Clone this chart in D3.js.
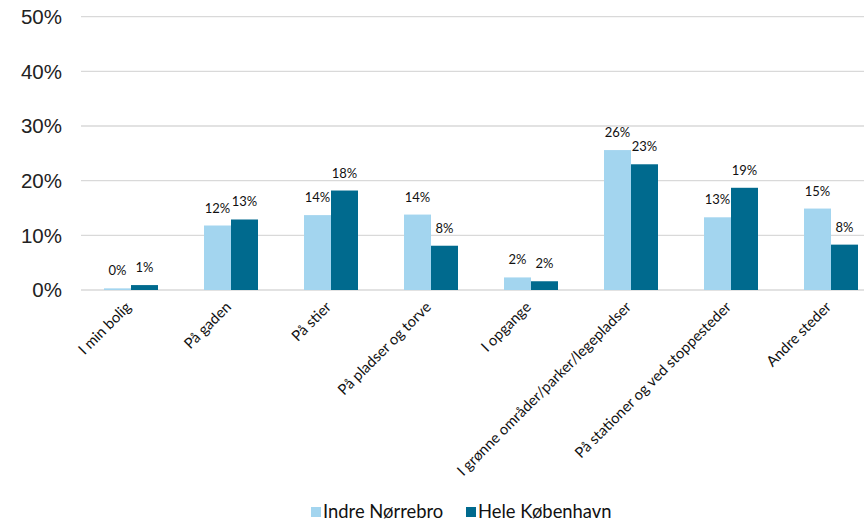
<!DOCTYPE html>
<html><head><meta charset="utf-8">
<script src="https://cdn.jsdelivr.net/npm/d3@7"></script>
<style>body{margin:0;background:#fff}svg{display:block}</style>
</head><body>
<svg id="c" width="864" height="523"></svg>
<script>
const categories = ["I min bolig","På gaden","På stier","På pladser og torve","I opgange","I grønne områder/parker/legepladser","På stationer og ved stoppesteder","Andre steder"];
const seriesNames = ["Indre Nørrebro","Hele København"];
const indreNorrebro = [0.3, 11.8, 13.7, 13.8, 2.3, 25.6, 13.3, 14.9];
const heleKobenhavn = [0.9, 12.9, 18.2, 8.1, 1.6, 23.0, 18.7, 8.3];
const yTicks = [0, 10, 20, 30, 40, 50];
const colors = ["#a3d5ef", "#006a8e"];

const svg = d3.select("#c");
const x0 = d3.scaleBand().domain(categories).range([81, 881]).paddingInner(0.46).paddingOuter(0.23);
const x1 = d3.scaleBand().domain(seriesNames).range([0, x0.bandwidth()]);
const y = d3.scaleLinear().domain([0, 50]).range([290, 16.7]);

// grid
svg.append("g").selectAll("line").data(yTicks).join("line")
  .attr("x1", 81).attr("x2", 864).attr("y1", d => y(d)).attr("y2", d => y(d))
  .attr("stroke", "#d9d9d9").attr("stroke-width", 1.3);

// y labels
svg.append("g").selectAll("text").data(yTicks).join("text")
  .attr("x", 62).attr("y", d => y(d)).attr("dy", "0.36em")
  .attr("text-anchor", "end").attr("font-family", "Liberation Sans, Arial, sans-serif")
  .attr("font-size", 20.5).attr("fill", "#222").text(d => d + "%");

const series = [indreNorrebro, heleKobenhavn];
series.forEach((vals, si) => {
  const g = svg.append("g");
  g.selectAll("rect").data(vals).join("rect")
    .attr("x", (d, i) => x0(categories[i]) + x1(seriesNames[si]))
    .attr("width", x1.bandwidth())
    .attr("y", d => y(d)).attr("height", d => y(0) - y(d))
    .attr("fill", colors[si]);
  g.selectAll("text").data(vals).join("text")
    .attr("x", (d, i) => x0(categories[i]) + x1(seriesNames[si]) + x1.bandwidth() / 2)
    .attr("y", d => y(d) - 13)
    .attr("text-anchor", "middle").attr("font-family", "Lato, sans-serif")
    .attr("font-size", 13).attr("fill", "#111")
    .text(d => Math.round(d) + "%");
});

// x labels
svg.append("g").selectAll("text").data(categories).join("text")
  .attr("transform", d => `translate(${x0(d) + x0.bandwidth() / 2 + 1},${308}) rotate(-45)`)
  .attr("text-anchor", "end").attr("font-family", "Lato, sans-serif")
  .attr("font-size", 14.8).attr("fill", "#111").text(d => d);

// legend
const legendX = [311, 466];
const lg = svg.append("g");
seriesNames.forEach((n, i) => {
  lg.append("rect").attr("x", legendX[i]).attr("y", 507).attr("width", 10).attr("height", 10).attr("fill", colors[i]);
  lg.append("text").attr("x", legendX[i] + 12).attr("y", 518)
    .attr("font-family", "Lato, sans-serif").attr("font-size", 18.4).attr("fill", "#111").text(n);
});
</script>
</body></html>
